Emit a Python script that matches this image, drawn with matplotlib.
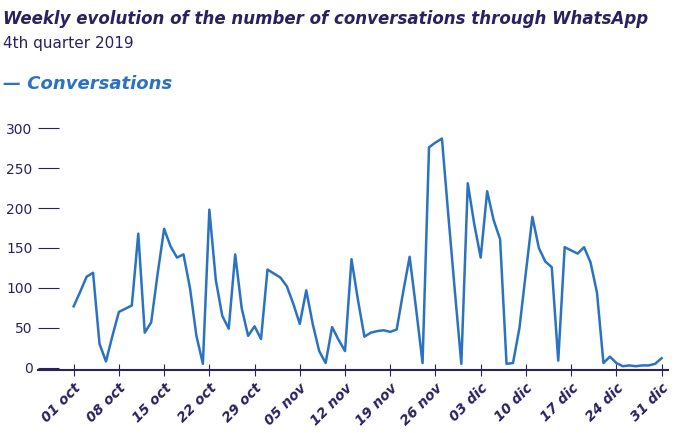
import matplotlib
matplotlib.use("Agg")
import matplotlib.pyplot as plt

values = [77, 95, 114, 119, 30, 8, 40, 70, 74, 78, 168, 44, 57, 118, 174, 152, 138, 142, 100, 40,
          5, 198, 110, 65, 49, 142, 75, 40, 52, 36, 123, 118, 113, 102, 80, 55, 97, 55, 21, 6,
          51, 35, 21, 136, 85, 39, 44, 46, 47, 45, 48, 95, 139, 74, 6, 276, 282, 287, 190, 96,
          5, 231, 180, 138, 221, 185, 161, 5, 6, 50, 120, 189, 150, 133, 126, 9, 151, 147, 143, 151,
          132, 94, 6, 14, 6, 2, 3, 2, 3, 3, 5, 12]
tick_labels = ["01 oct", "08 oct", "15 oct", "22 oct", "29 oct", "05 nov", "12 nov", "19 nov",
               "26 nov", "03 dic", "10 dic", "17 dic", "24 dic", "31 dic"]
y_ticks = [0, 50, 100, 150, 200, 250, 300]

navy = "#2b2060"
blue = "#2a73c0"

fig = plt.figure(figsize=(6.81, 4.33), dpi=100)
ax = fig.add_axes([0.056, 0.145, 0.925, 0.559])
ax.plot(range(len(values)), values, color=blue, lw=1.8)
ax.set_xlim(-5.5, 92)
ax.set_ylim(-3, 300)
for s in ["top", "right", "left"]:
    ax.spines[s].set_visible(False)
ax.spines["bottom"].set_color(navy)
ax.spines["bottom"].set_linewidth(1.5)
ax.set_xticks([i * 7 for i in range(13)] + [91])
ax.set_xticklabels(tick_labels, rotation=45, ha="right", rotation_mode="anchor",
                   fontsize=10, color=navy, style="italic", fontweight="bold")
ax.tick_params(axis="x", direction="inout", length=8, color=navy, pad=4)
ax.set_yticks(y_ticks)
ax.set_yticklabels([str(v) for v in y_ticks], fontsize=10, color=navy)
ax.tick_params(axis="y", direction="in", length=15, color=navy, pad=4)

fig.text(0.005, 0.945, "Weekly evolution of the number of conversations through WhatsApp",
         fontsize=12, color=navy, style="italic", fontweight="bold")
fig.text(0.005, 0.89, "4th quarter 2019", fontsize=11, color=navy)
fig.text(0.005, 0.795, "— Conversations", fontsize=13, color=blue, style="italic", fontweight="bold")

fig.savefig("out.png", dpi=100)
